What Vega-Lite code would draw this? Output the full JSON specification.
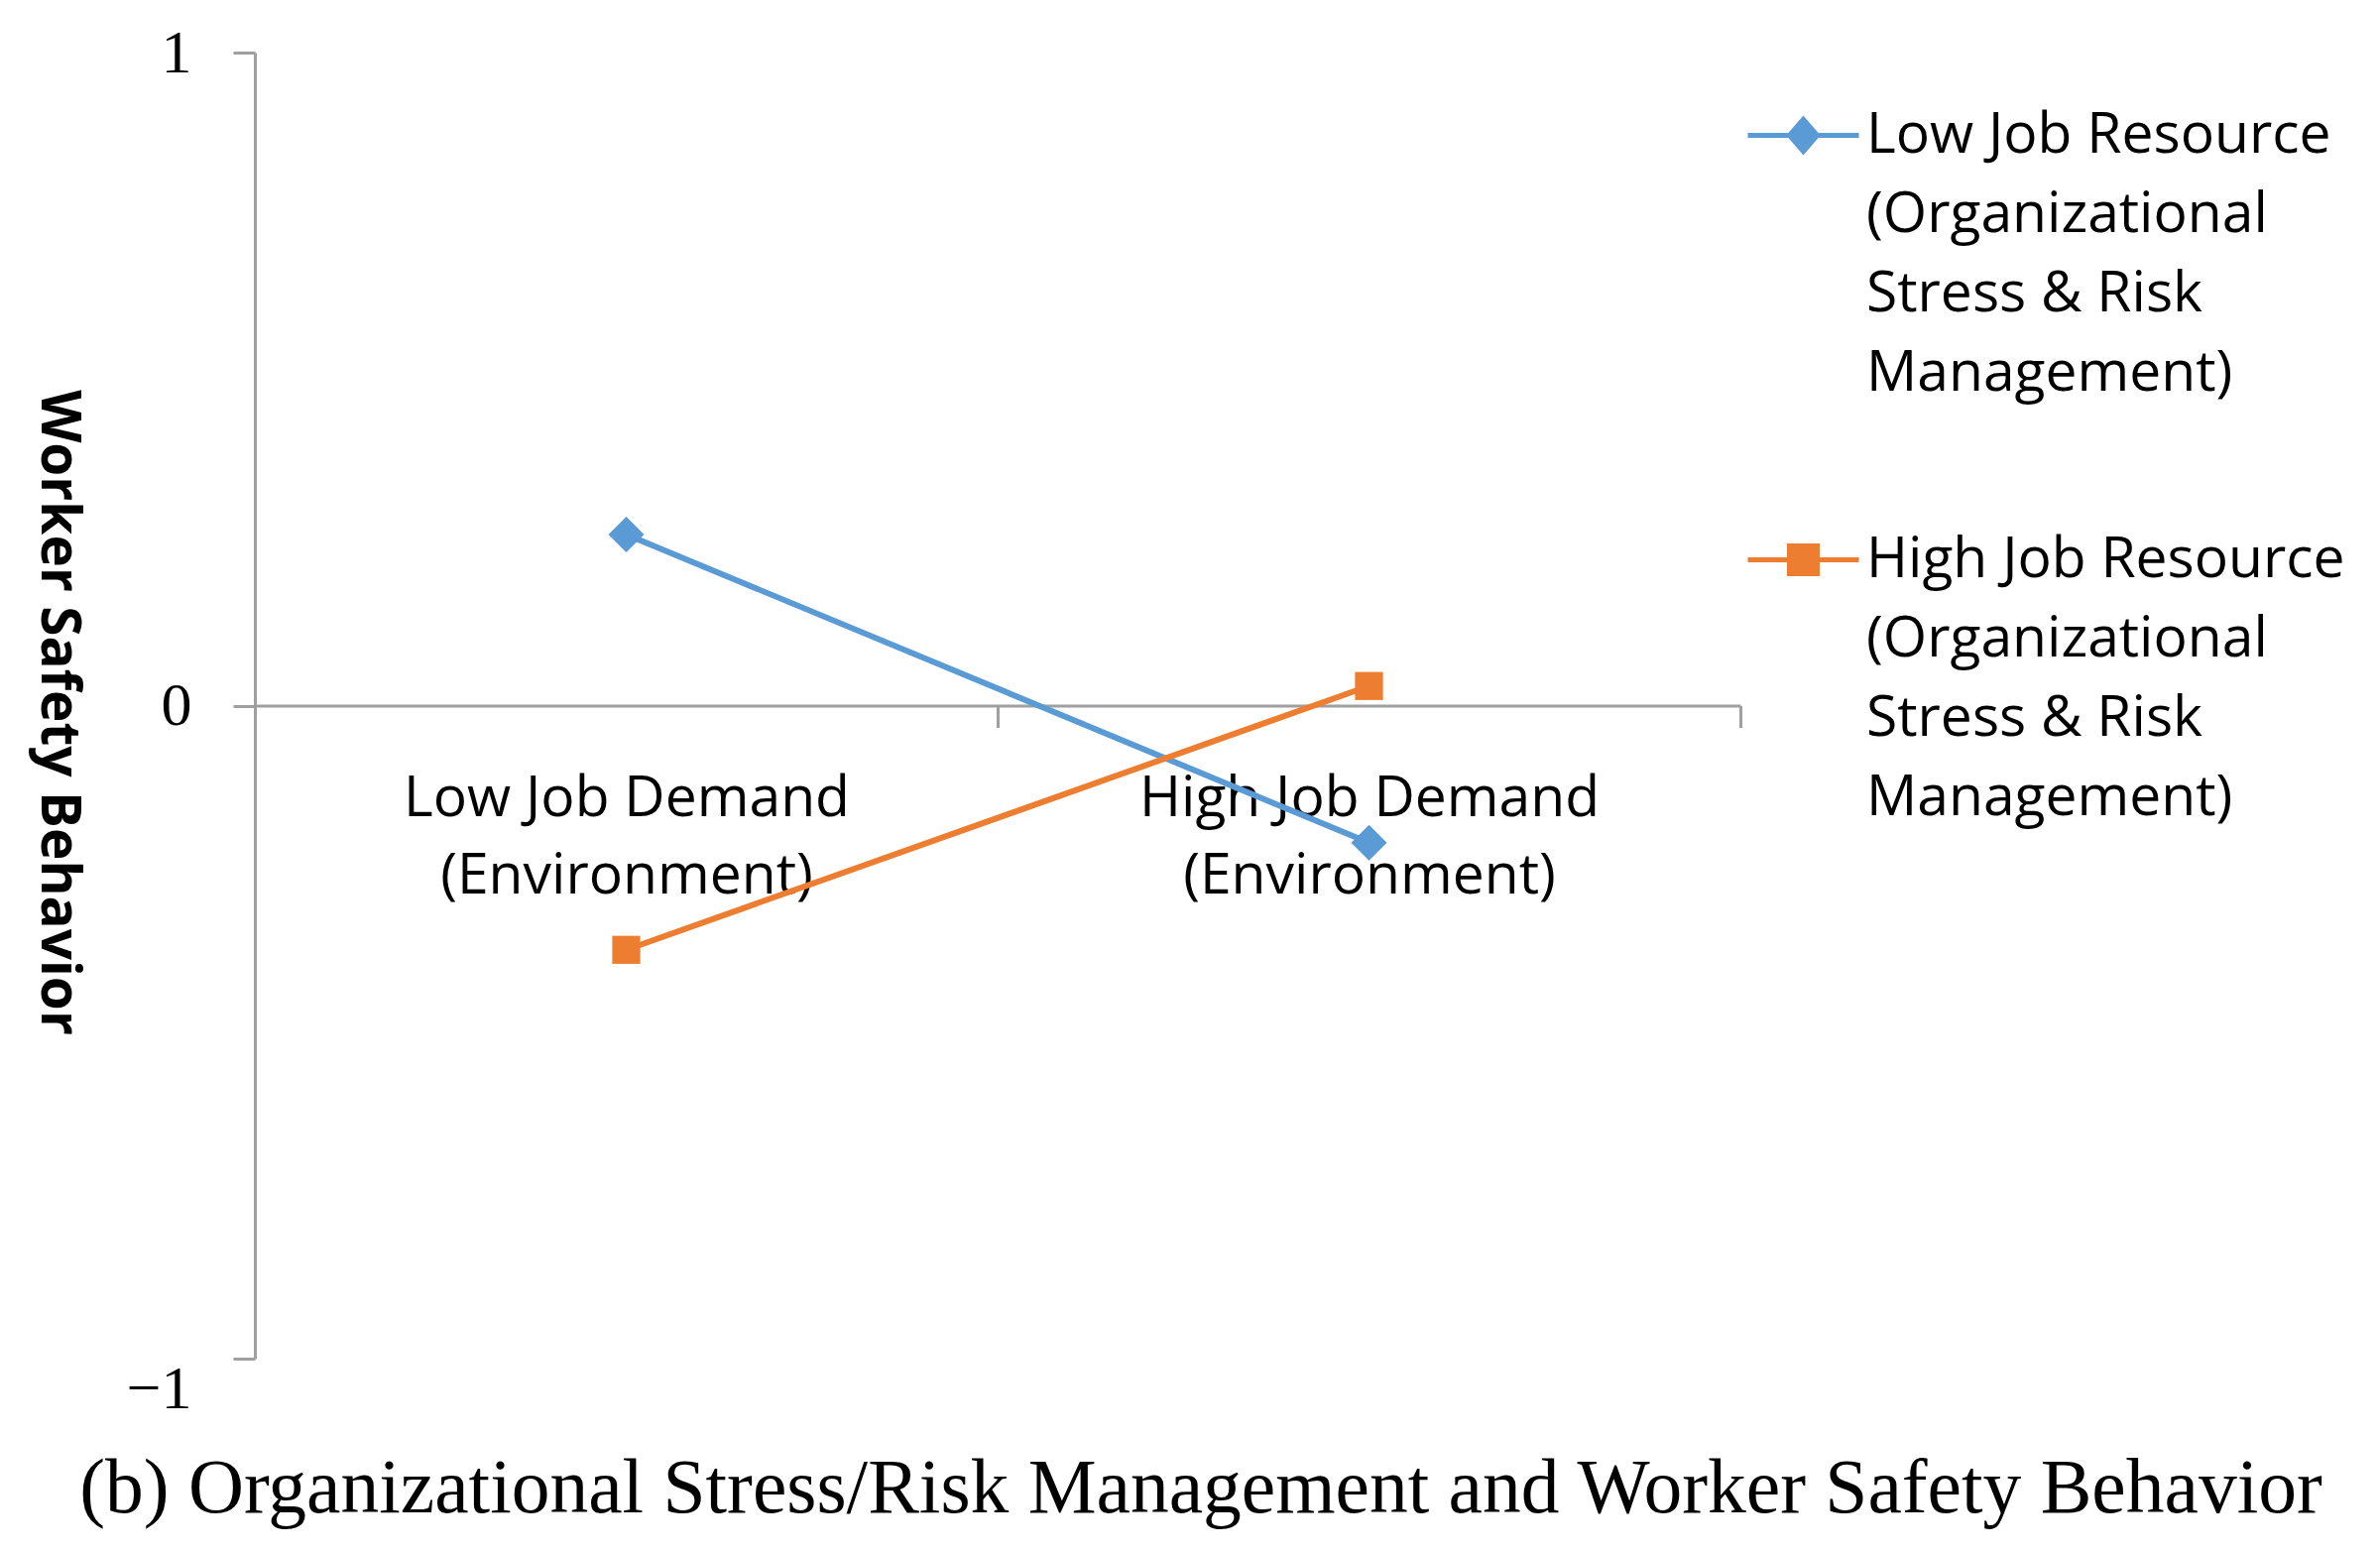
{
  "$schema": "https://vega.github.io/schema/vega-lite/v6.json",
  "autosize": "none",
  "width": 1498,
  "height": 1317,
  "padding": {"left": 257, "top": 53, "right": 645, "bottom": 195},
  "background": "white",
  "data": {
    "values": [
      {"demand": "Low Job Demand (Environment)", "resource": "Low Job Resource (Organizational Stress & Risk Management)", "wsb": 0.262},
      {"demand": "High Job Demand (Environment)", "resource": "Low Job Resource (Organizational Stress & Risk Management)", "wsb": -0.21},
      {"demand": "Low Job Demand (Environment)", "resource": "High Job Resource (Organizational Stress & Risk Management)", "wsb": -0.374},
      {"demand": "High Job Demand (Environment)", "resource": "High Job Resource (Organizational Stress & Risk Management)", "wsb": 0.03}
    ]
  },
  "title": {
    "text": "(b) Organizational Stress/Risk Management and Worker Safety Behavior",
    "orient": "bottom",
    "frame": "group",
    "anchor": "middle",
    "dx": 205,
    "offset": 33,
    "font": "Liberation Serif",
    "fontSize": 77.5,
    "fontWeight": "normal",
    "color": "#000000"
  },
  "config": {
    "view": {"stroke": null},
    "axis": {
      "grid": false,
      "domainColor": "#a0a0a0",
      "domainWidth": 3,
      "tickColor": "#a0a0a0",
      "tickWidth": 3,
      "tickSize": 22,
      "labelColor": "#000000"
    }
  },
  "encoding": {
    "x": {
      "field": "demand",
      "type": "nominal",
      "sort": ["Low Job Demand (Environment)", "High Job Demand (Environment)"],
      "scale": {"paddingInner": 0, "paddingOuter": 0},
      "axis": {
        "orient": "bottom",
        "offset": -658.5,
        "tickBand": "extent",
        "title": null,
        "labelAngle": 0,
        "labelFont": "Open Sans",
        "labelFontSize": 57,
        "labelLineHeight": 78,
        "labelPadding": 44,
        "labelLimit": 0,
        "labelExpr": "isString(datum.label) && indexof(datum.label, ' (') > 0 ? [split(datum.label, ' (')[0], '(' + split(datum.label, ' (')[1]] : ''"
      }
    },
    "y": {
      "field": "wsb",
      "type": "quantitative",
      "scale": {"domain": [-1, 1], "nice": false},
      "axis": {
        "values": [-1, 0, 1],
        "labelOverlap": false,
        "labelExpr": "datum.value > 0.5 ? '1' : datum.value < -0.5 ? '\u22121' : '0'",
        "labelOffset": {"condition": {"test": "datum.value < -0.5", "value": 30}, "value": 0},
        "labelFont": "Liberation Serif",
        "labelFontSize": 62,
        "labelPadding": 42,
        "title": "Worker Safety Behavior",
        "titleFont": "Open Sans",
        "titleFontWeight": "bold",
        "titleFontSize": 55,
        "titleColor": "#000000",
        "titleAngle": 90,
        "titleX": -199,
        "titleY": 665,
        "titleAlign": "center",
        "titleBaseline": "middle"
      }
    }
  },
  "layer": [
    {
      "mark": {"type": "line", "strokeWidth": 6},
      "encoding": {
        "color": {
          "field": "resource",
          "type": "nominal",
          "scale": {
            "domain": ["Low Job Resource (Organizational Stress & Risk Management)", "High Job Resource (Organizational Stress & Risk Management)"],
            "range": ["#5B9BD5", "#ED7D31"]
          },
          "legend": {
            "orient": "none",
            "legendX": 1503,
            "legendY": 25,
            "title": null,
            "padding": 0,
            "labelFont": "Open Sans",
            "labelFontSize": 57,
            "labelColor": "#000000",
            "labelLimit": 0,
            "labelOffset": 5,
            "rowPadding": 101,
            "symbolSize": 12544,
            "symbolStrokeWidth": 5,
            "labelExpr": "[join(slice(split(datum.label, ' '), 0, 3), ' '), split(datum.label, ' ')[3], join(slice(split(datum.label, ' '), 4, 7), ' '), split(datum.label, ' ')[7]]",
            "encode": {
              "labels": {"update": {"lineHeight": {"value": 80}}},
              "symbols": {
                "update": {
                  "shape": {"signal": "indexof(datum.value, 'Low') === 0 ? 'M-1,0L1,0M0,-0.29L0.25,0L0,0.29L-0.25,0Z' : 'M-1,0L1,0M-0.25,-0.25L0.25,-0.25L0.25,0.25L-0.25,0.25Z'"},
                  "fill": {"scale": "color", "field": "value"},
                  "stroke": {"scale": "color", "field": "value"},
                  "strokeWidth": {"value": 5},
                  "opacity": {"value": 1}
                }
              }
            }
          }
        }
      }
    },
    {
      "transform": [{"filter": {"field": "resource", "equal": "Low Job Resource (Organizational Stress & Risk Management)"}}],
      "mark": {"type": "point", "shape": "diamond", "filled": true, "opacity": 1, "size": 1300},
      "encoding": {
        "color": {"field": "resource", "type": "nominal", "legend": null}
      }
    },
    {
      "transform": [{"filter": {"field": "resource", "equal": "High Job Resource (Organizational Stress & Risk Management)"}}],
      "mark": {"type": "point", "shape": "square", "filled": true, "opacity": 1, "size": 800},
      "encoding": {
        "color": {"field": "resource", "type": "nominal", "legend": null}
      }
    }
  ]
}
